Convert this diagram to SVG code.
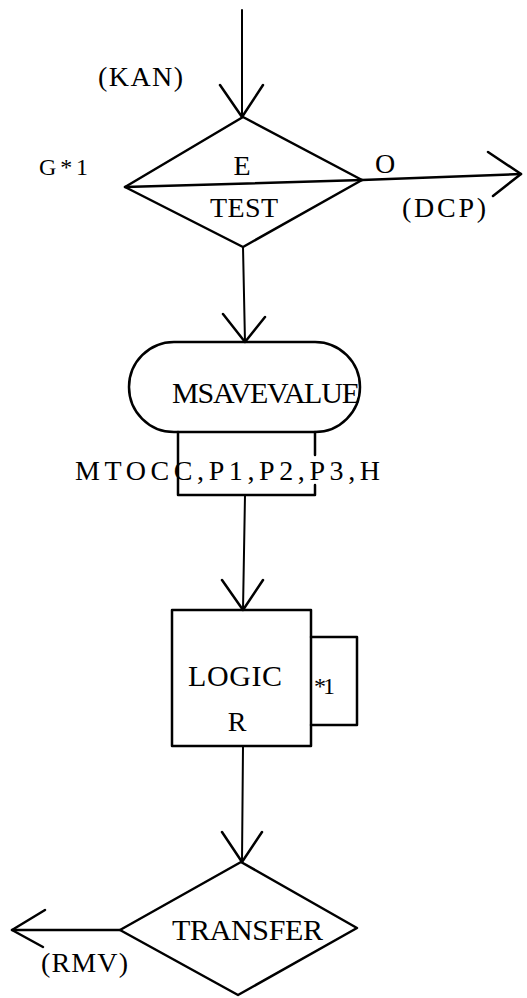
<svg xmlns="http://www.w3.org/2000/svg" width="527" height="998" viewBox="0 0 527 998">
<style>
.s{fill:none;stroke:#000;stroke-width:2.5;stroke-linejoin:round;stroke-linecap:round}
.c{fill:none;stroke:#000;stroke-width:2;stroke-linecap:round}
text{font-family:"Liberation Serif","Times New Roman",serif;font-size:28px;fill:#000}
.sm{font-size:24px}
.lg{font-size:30px}
.m{text-anchor:middle}
</style>
<rect width="527" height="998" fill="#fff"/>
<g id="connectors">
<line class="c" x1="242" y1="10" x2="242" y2="117"/>
<polyline class="s" points="220,85 242,117 263,85"/>
<line class="c" x1="243" y1="247" x2="245" y2="342"/>
<polyline class="s" points="223,314 245,342 265,317"/>
<line class="c" x1="245" y1="495" x2="243" y2="610"/>
<polyline class="s" points="222,580 243,610 263,580"/>
<line class="c" x1="243" y1="746" x2="242" y2="862"/>
<polyline class="s" points="222,832 242,862 262,832"/>
<line class="s" x1="362" y1="180" x2="521" y2="174"/>
<polyline class="s" points="488,152 521,174 493,196"/>
<line class="s" x1="120" y1="930" x2="12" y2="930"/>
<polyline class="s" points="45,910 12,930 43,947"/>
</g>
<g id="test">
<polygon class="s" points="243,117 362,180 243,247 125,187"/>
<line class="s" x1="125" y1="187" x2="362" y2="180"/>
<text x="242" y="175" class="m">E</text>
<text x="210" y="217" textLength="68" lengthAdjust="spacing">TEST</text>
</g>
<g id="labels">
<text x="98" y="86" textLength="85" lengthAdjust="spacing">(KAN)</text>
<text x="39" y="175" class="sm" textLength="49" lengthAdjust="spacing">G*1</text>
<text x="385" y="173" class="m">O</text>
<text x="402" y="217" textLength="84" lengthAdjust="spacing">(DCP)</text>
<text x="41" y="972" textLength="87" lengthAdjust="spacing">(RMV)</text>
</g>
<g id="msavevalue">
<rect class="s" x="129" y="342" width="231" height="90" rx="45" ry="45"/>
<text x="172" y="403" class="lg" textLength="188" lengthAdjust="spacing">MSAVEVALUE</text>
<polyline class="s" points="178,432 178,495 315,495 315,485"/>
<line class="s" x1="315" y1="432" x2="315" y2="455"/>
<text x="75" y="480" textLength="305" lengthAdjust="spacing">MTOCC,P1,P2,P3,H</text>
</g>
<g id="logic">
<rect class="s" x="172" y="610" width="139" height="136"/>
<polyline class="s" points="311,637 357,637 357,725 311,725"/>
<text x="188" y="686" class="lg" textLength="94" lengthAdjust="spacing">LOGIC</text>
<text x="237" y="731" class="m">R</text>
<text x="314" y="694" class="sm" textLength="21" lengthAdjust="spacing">*1</text>
</g>
<g id="transfer">
<polygon class="s" points="241,862 357,928 238,995 120,930"/>
<text x="172" y="940" class="lg" textLength="151" lengthAdjust="spacing">TRANSFER</text>
</g>
</svg>
